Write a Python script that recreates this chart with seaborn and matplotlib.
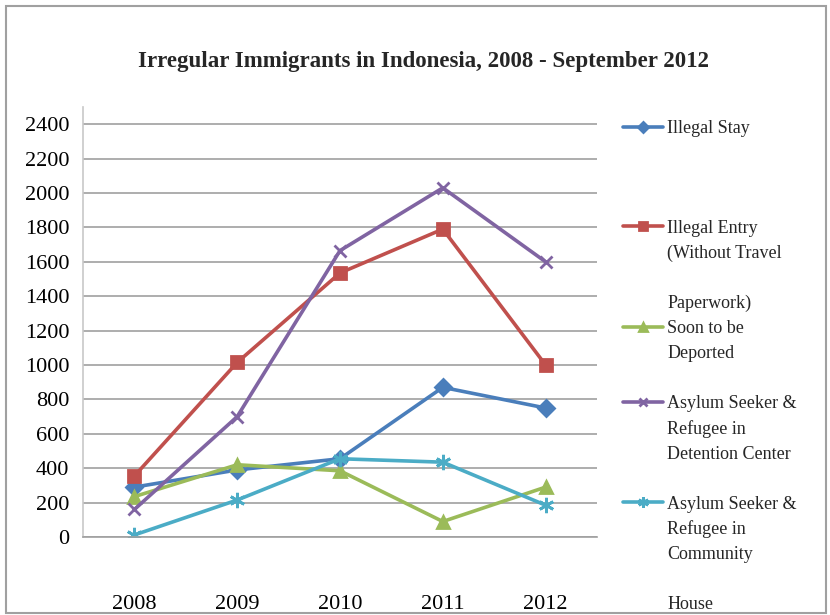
import matplotlib
matplotlib.use("Agg")
import matplotlib.pyplot as plt
from matplotlib.lines import Line2D
from matplotlib.patches import Rectangle
import seaborn as sns

# values
years = [2008, 2009, 2010, 2011, 2012]
illegal_stay = [290, 390, 455, 870, 750]
illegal_entry = [355, 1015, 1535, 1790, 1000]
soon_deported = [235, 420, 385, 90, 290]
asylum_detention = [160, 700, 1665, 2030, 1600]
asylum_community = [12, 215, 455, 435, 185]

y_ticks = list(range(0, 2401, 200))

series = [
    (illegal_stay, '#4A7EBB', 'D', 8),
    (illegal_entry, '#C0504D', 's', 9),
    (soon_deported, '#9BBB59', '^', 9),
    (asylum_detention, '#8064A2', 'x', 9),
    (asylum_community, '#4BACC6', (6, 2, 0), 11),
]

legend_rows = [
    (0, 'Illegal Stay'), (None, ' '), (None, ' '), (None, ' '),
    (1, 'Illegal Entry'), (None, '(Without Travel'), (None, ' '), (None, 'Paperwork)'),
    (2, 'Soon to be'), (None, 'Deported'), (None, ' '),
    (3, 'Asylum Seeker &'), (None, 'Refugee in'), (None, 'Detention Center'), (None, ' '),
    (4, 'Asylum Seeker &'), (None, 'Refugee in'), (None, 'Community'), (None, ' '),
    (None, 'House'),
]

sns.set_theme(style='white')
plt.rcParams['font.family'] = ['Liberation Serif', 'DejaVu Serif']

fig = plt.figure(figsize=(8.3, 6.15), dpi=100)
ax = fig.add_axes([83 / 830, 1 - 537 / 615, (597 - 83) / 830, (537 - 107) / 615])

lines = []
for vals, color, marker, ms in series:
    sns.lineplot(x=years, y=vals, color=color, marker=marker, markersize=ms,
                 markeredgecolor=color, markeredgewidth=2, linewidth=2.6, ax=ax)
    lines.append(ax.lines[-1])

ax.set_xlim(2007.5, 2012.5)
ax.set_ylim(0, 2500)
ax.set_xticks(years)
ax.set_yticks(y_ticks)
ax.set_xticklabels([str(y) for y in years])
ax.grid(axis='y', color='#A0A0A0', linewidth=1.2)
ax.grid(axis='x', visible=False)
ax.set_axisbelow(True)
for side in ['top', 'right']:
    ax.spines[side].set_visible(False)
ax.spines['left'].set_color('#C8C8C8')
ax.spines['left'].set_linewidth(1.2)
ax.spines['bottom'].set_color('#A0A0A0')
ax.spines['bottom'].set_linewidth(1.2)
ax.tick_params(axis='y', length=0, pad=10, labelsize=16, colors='black')
ax.tick_params(axis='x', length=0, pad=42, labelsize=16, colors='black')
ax.set_xlabel('')
ax.set_ylabel('')

fig.text(0.51, 1 - 62 / 615, 'Irregular Immigrants in Indonesia, 2008 - September 2012',
         ha='center', va='center', fontsize=16.5, fontweight='bold')

blank = Line2D([], [], linestyle='none')
handles = [lines[i] if i is not None else blank for i, _ in legend_rows]
labels = [t for _, t in legend_rows]
ax.legend(handles, labels, loc='upper left', bbox_to_anchor=(623 / 830, 1 - 120 / 615),
          bbox_transform=fig.transFigure, frameon=False, borderpad=0, borderaxespad=0,
          handlelength=2.2, handletextpad=0.25, labelspacing=0.44, fontsize=13,
          markerscale=0.7)

fig.patches.append(Rectangle((0.007, 0.003), 0.988, 0.987, transform=fig.transFigure,
                             fill=False, edgecolor='#A0A0A0', linewidth=1.5))

fig.savefig('out.png', dpi=100)
